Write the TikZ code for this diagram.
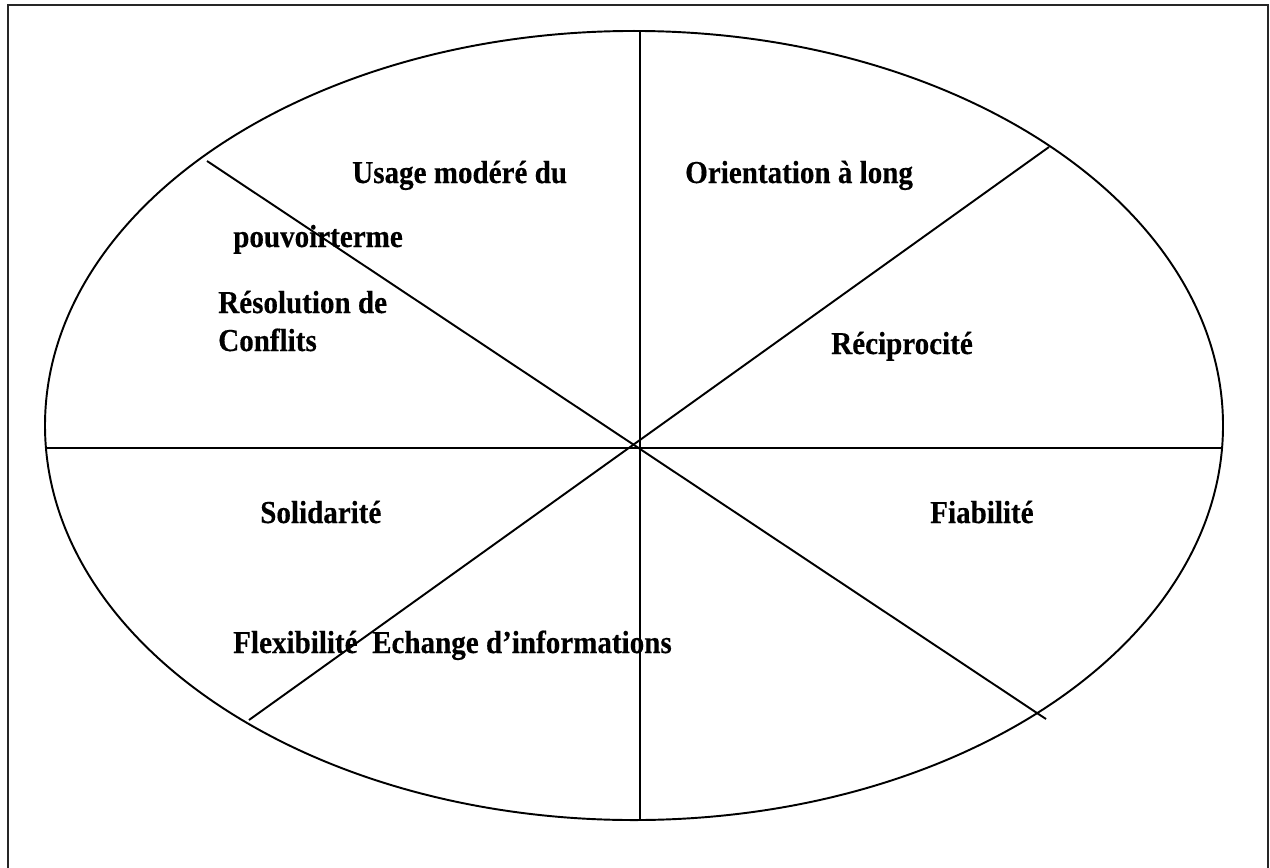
\documentclass[tikz,border=0pt]{standalone}
\usepackage{fontspec}
\setmainfont{Liberation Serif}[BoldFeatures={FakeBold=0.4}]
\newcommand{\tallbox}[1]{\scalebox{1}[1.1]{#1}}
\begin{document}
\begin{tikzpicture}[x=0.75pt,y=-0.75pt,
  lbl/.style={font=\fontsize{21.8}{26}\selectfont\bfseries, inner sep=0pt, anchor=base west},
  spoke/.style={line width=1.45pt, black},
  frame/.style={line width=1.7pt, draw=black!85}]
\useasboundingbox (0,0) rectangle (1270,867);
\begin{scope}
\clip (0,0) rectangle (1270,867);
\draw[frame] (8,5) rectangle (1268,890);
\end{scope}

% outer ellipse
\coordinate (O) at (634,425.5);
\draw[spoke] (O) ellipse [x radius=441.75pt, y radius=295.9pt];

% spoke end points
\coordinate (top) at (640,31);
\coordinate (bot) at (640,820);
\coordinate (lft) at (45,448);
\coordinate (rgt) at (1223,448);
\coordinate (ul) at (207,161);
\coordinate (lr) at (1046,719);
\coordinate (ur) at (1049,147);
\coordinate (ll) at (249,720);

\draw[spoke] (top) -- (bot);
\draw[spoke] (lft) -- (rgt);
\draw[spoke] (ul) -- (lr);
\draw[spoke] (ur) -- (ll);

% sector labels
\node[lbl] (usage) at (352,183) {\tallbox{Usage modéré du}};
\node[lbl] (pouv) at (233,247) {\tallbox{pouvoirterme}};
\node[lbl] (reso) at (218,313) {\tallbox{Résolution de}};
\node[lbl] (conf) at (218,351) {\tallbox{Conflits}};
\node[lbl] (orient) at (685,183) {\tallbox{Orientation à long}};
\node[lbl] (recip) at (831,354) {\tallbox{Réciprocité}};
\node[lbl] (solid) at (260,523) {\tallbox{Solidarité}};
\node[lbl] (fiab) at (930,523) {\tallbox{Fiabilité}};
\node[lbl] (flex) at (233,653) {\tallbox{Flexibilité\ \ Echange d’informations}};
\end{tikzpicture}
\end{document}
